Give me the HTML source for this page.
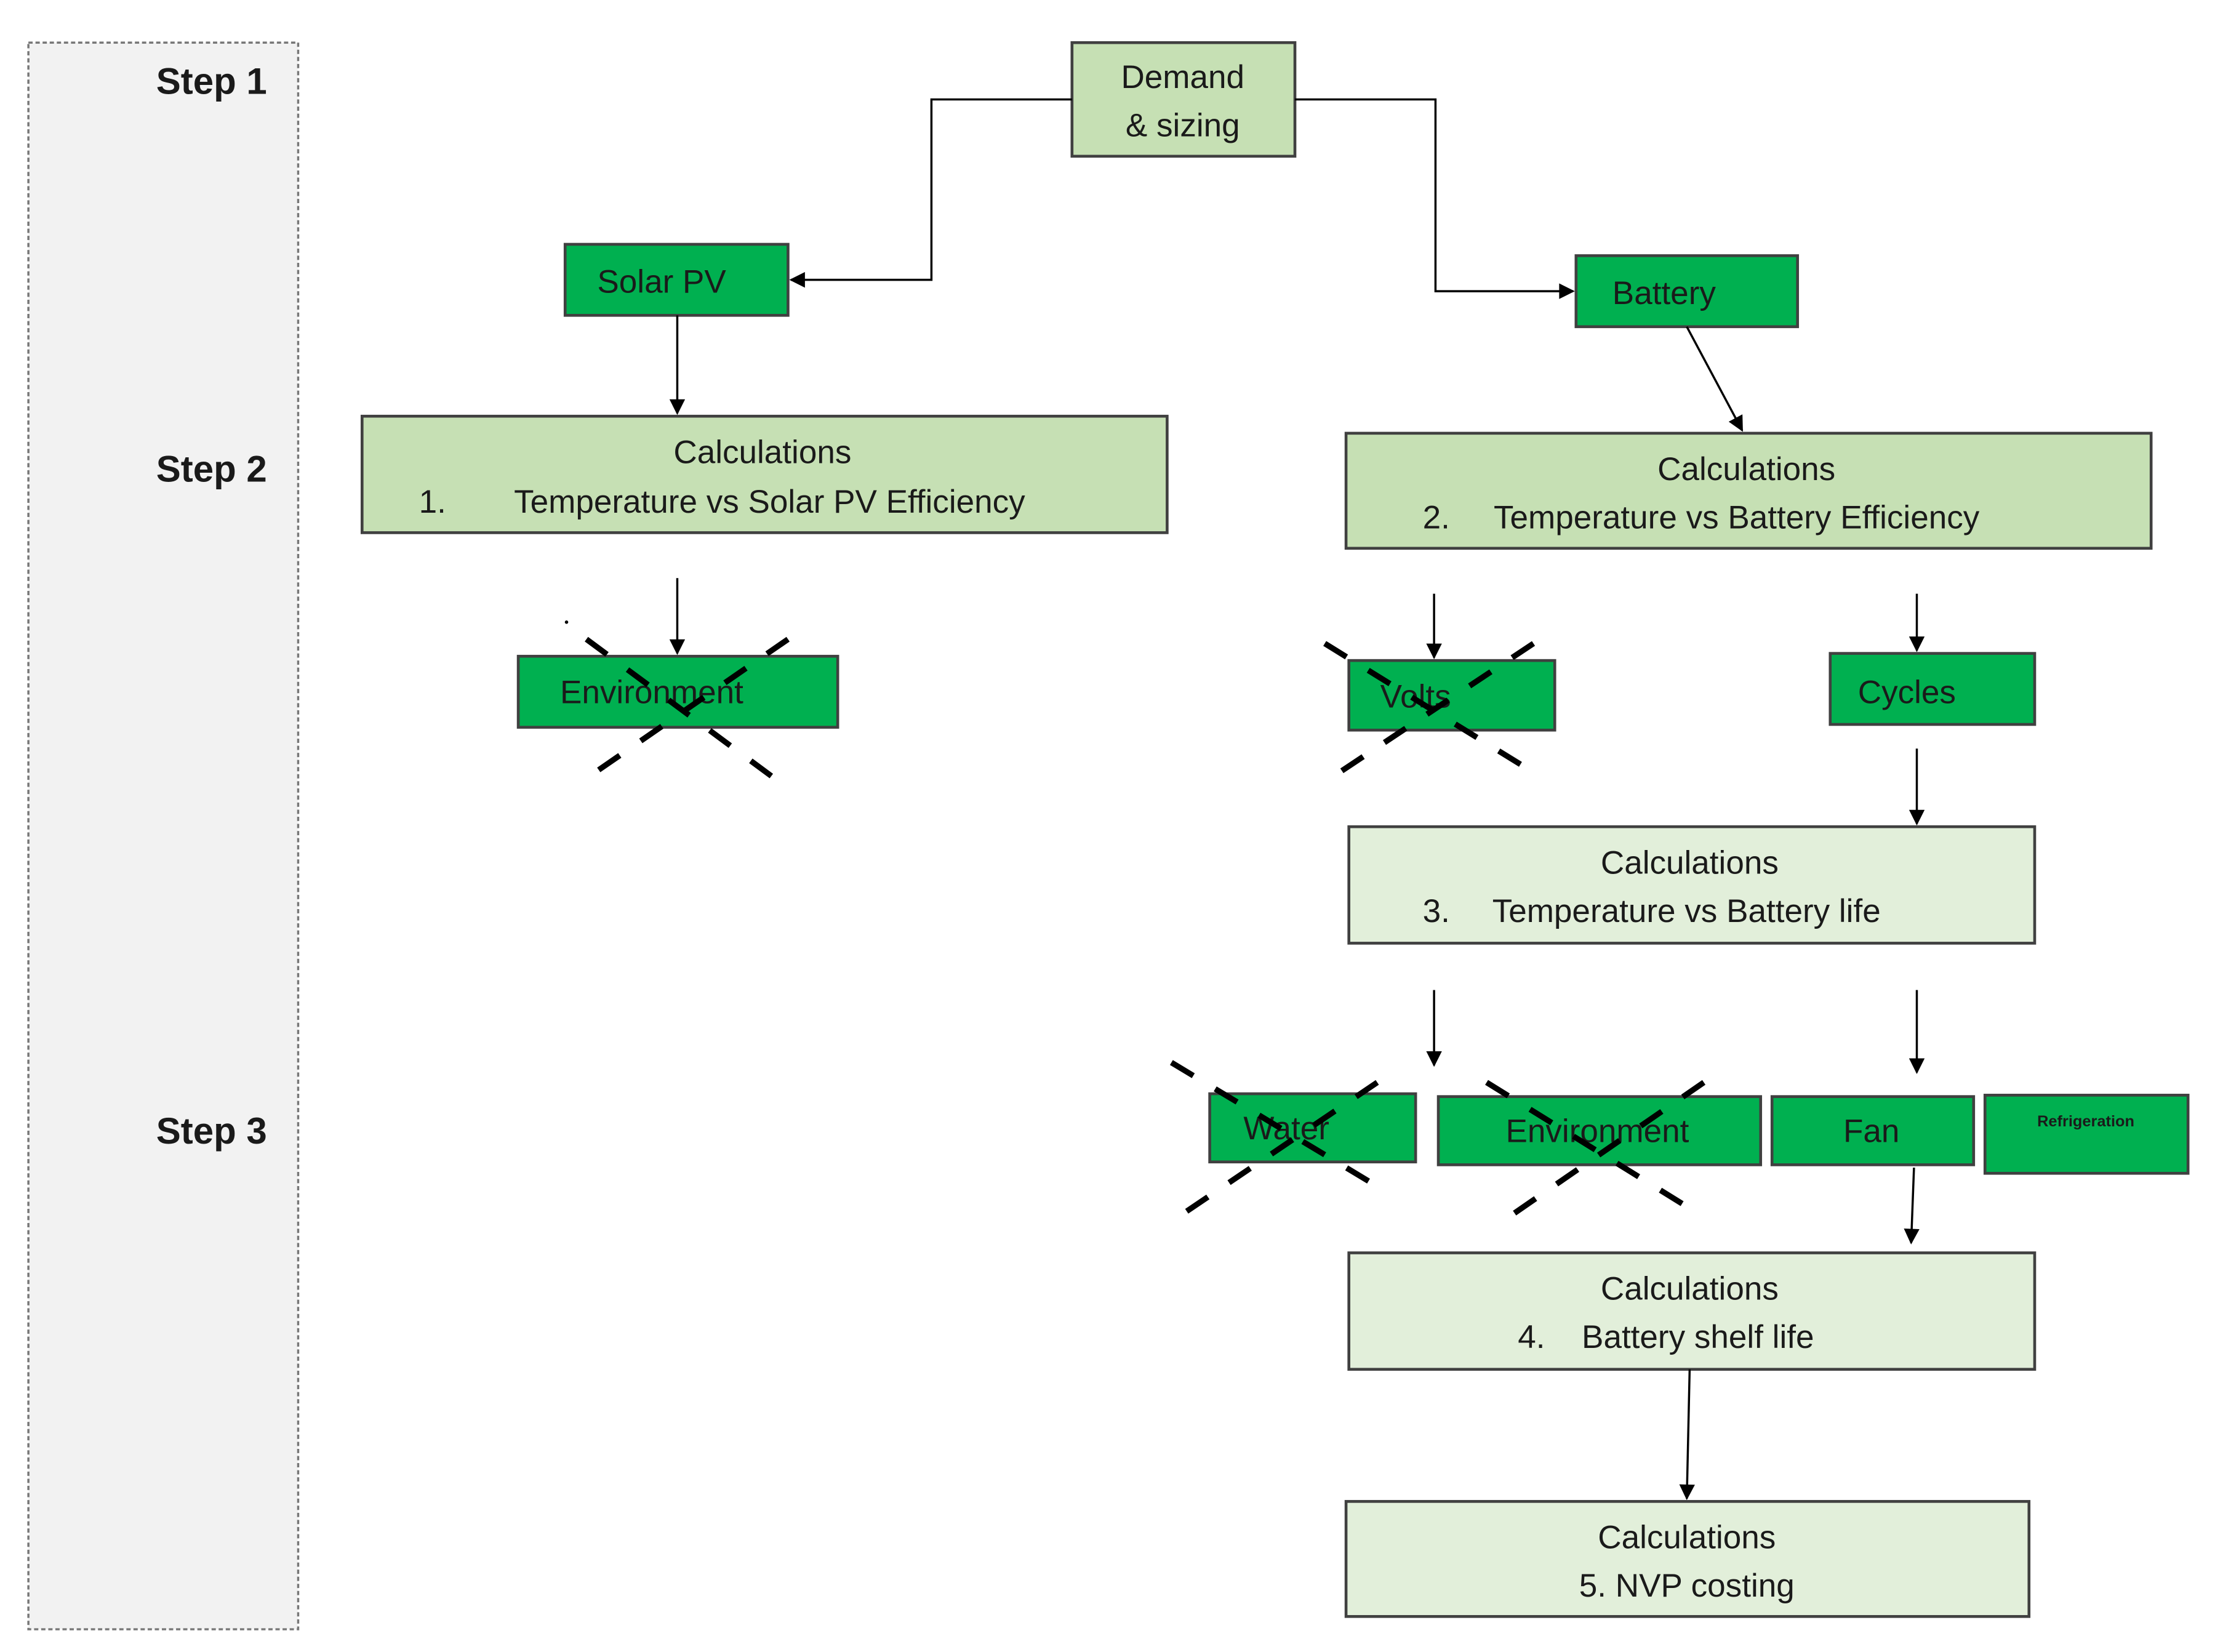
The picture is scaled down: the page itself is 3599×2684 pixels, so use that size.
<!DOCTYPE html>
<html><head><meta charset="utf-8"><style>
html,body{margin:0;padding:0;background:#fff;}
svg{display:block;}
text{font-family:"Liberation Sans",sans-serif;fill:#1a1a1a;}
</style></head><body>
<svg width="3599" height="2684" viewBox="0 0 1560 1163" preserveAspectRatio="none" xmlns="http://www.w3.org/2000/svg">
<defs>
<marker id="a" viewBox="0 0 10 10" refX="9" refY="5" markerWidth="12" markerHeight="11" orient="auto" markerUnits="userSpaceOnUse"><path d="M0,0 L10,5 L0,10 z" fill="#000"/></marker>
</defs>
<rect x="0" y="0" width="1560" height="1163" fill="#fff"/>
<rect x="20" y="30" width="190" height="1117" fill="#f2f2f2" stroke="#777" stroke-width="1.5" stroke-dasharray="3,2"/>
<g font-weight="bold" font-size="26" text-anchor="end">
<text x="188" y="66">Step 1</text>
<text x="188" y="339">Step 2</text>
<text x="188" y="805">Step 3</text>
</g>
<g stroke="#404040" stroke-width="2">
<rect x="755" y="30" width="157" height="80" fill="#c6e0b4"/>
<rect x="398" y="172" width="157" height="50" fill="#00b050"/>
<rect x="1110" y="180" width="156" height="50" fill="#00b050"/>
<rect x="255" y="293" width="567" height="82" fill="#c6e0b4"/>
<rect x="948" y="305" width="567" height="81" fill="#c6e0b4"/>
<rect x="365" y="462" width="225" height="50" fill="#00b050"/>
<rect x="950" y="465" width="145" height="49" fill="#00b050"/>
<rect x="1289" y="460" width="144" height="50" fill="#00b050"/>
<rect x="950" y="582" width="483" height="82" fill="#e2efda"/>
<rect x="852" y="770" width="145" height="48" fill="#00b050"/>
<rect x="1013" y="772" width="227" height="48" fill="#00b050"/>
<rect x="1248" y="772" width="142" height="48" fill="#00b050"/>
<rect x="1398" y="771" width="143" height="55" fill="#00b050"/>
<rect x="950" y="882" width="483" height="82" fill="#e2efda"/>
<rect x="948" y="1057" width="481" height="81" fill="#e2efda"/>
</g>
<g font-size="23" text-anchor="middle">
<text x="833" y="62">Demand</text>
<text x="833" y="96">&amp; sizing</text>
<text x="466" y="206">Solar PV</text>
<text x="1172" y="214">Battery</text>
<text x="537" y="326">Calculations</text>
<text x="1230" y="338">Calculations</text>
<text x="459" y="495">Environment</text>
<text x="997" y="498">Volts</text>
<text x="1343" y="495">Cycles</text>
<text x="1190" y="615">Calculations</text>
<text x="906" y="802">Water</text>
<text x="1125" y="804">Environment</text>
<text x="1318" y="804">Fan</text>
<text x="1190" y="915">Calculations</text>
<text x="1188" y="1090">Calculations</text>
<text x="1188" y="1124">5. NVP costing</text>
</g>
<g font-size="23">
<text x="295" y="361">1.</text>
<text x="362" y="361">Temperature vs Solar PV Efficiency</text>
<text x="1002" y="372">2.</text>
<text x="1052" y="372">Temperature vs Battery Efficiency</text>
<text x="1002" y="649">3.</text>
<text x="1051" y="649">Temperature vs Battery life</text>
<text x="1069" y="949">4.</text>
<text x="1114" y="949">Battery shelf life</text>
</g>
<text x="1469" y="793" font-size="11" font-weight="bold" text-anchor="middle">Refrigeration</text>
<g stroke="#000" stroke-width="1.5" fill="none">
<polyline points="755,70 656,70 656,197 557,197" marker-end="url(#a)"/>
<polyline points="912,70 1011,70 1011,205 1108,205" marker-end="url(#a)"/>
<line x1="477" y1="222" x2="477" y2="291" marker-end="url(#a)"/>
<line x1="1188" y1="230" x2="1227" y2="303" marker-end="url(#a)"/>
<line x1="477" y1="407" x2="477" y2="460" marker-end="url(#a)"/>
<line x1="1010" y1="418" x2="1010" y2="463" marker-end="url(#a)"/>
<line x1="1350" y1="418" x2="1350" y2="458" marker-end="url(#a)"/>
<line x1="1350" y1="527" x2="1350" y2="580" marker-end="url(#a)"/>
<line x1="1010" y1="697" x2="1010" y2="750" marker-end="url(#a)"/>
<line x1="1350" y1="697" x2="1350" y2="755" marker-end="url(#a)"/>
<line x1="1348" y1="822" x2="1346" y2="875" marker-end="url(#a)"/>
<line x1="1190" y1="964" x2="1188" y2="1055" marker-end="url(#a)"/>
</g>
<g stroke="#000" stroke-width="4" stroke-dasharray="18,18" fill="none">
<line x1="413" y1="450" x2="555" y2="555"/>
<line x1="555" y1="450" x2="413" y2="548"/>
<line x1="933" y1="453" x2="1082" y2="545"/>
<line x1="1080" y1="453" x2="937" y2="548"/>
<line x1="825" y1="748" x2="978" y2="840"/>
<line x1="970" y1="762" x2="828" y2="858"/>
<line x1="1047" y1="762" x2="1197" y2="855"/>
<line x1="1200" y1="762" x2="1058" y2="860"/>
</g>
<circle cx="399" cy="438" r="1.2" fill="#000"/>
</svg>
</body></html>
